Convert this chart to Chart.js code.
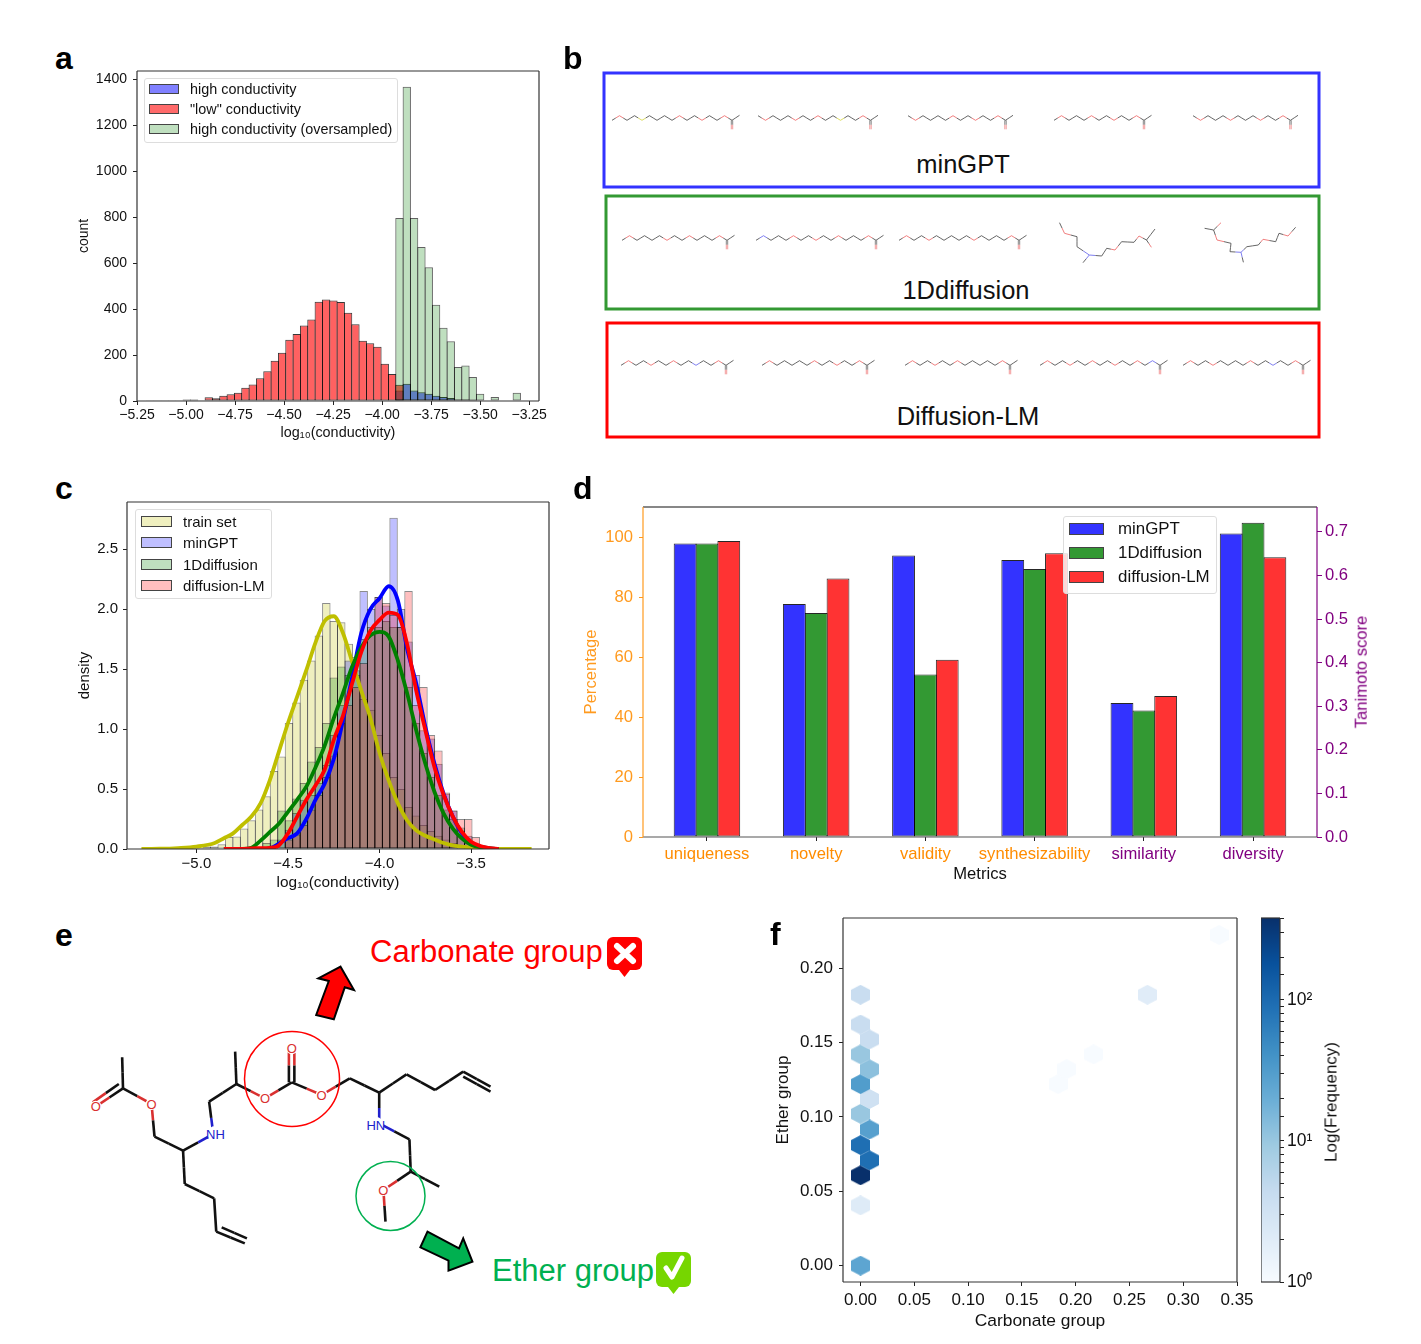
<!DOCTYPE html>
<html>
<head>
<meta charset="utf-8">
<script src="https://cdn.jsdelivr.net/npm/chart.js@4/dist/chart.umd.min.js"></script>
<style>
  html, body { margin: 0; padding: 0; background: #fff; }
  #page { position: relative; width: 1421px; height: 1344px; overflow: hidden; font-family: "Liberation Sans", Arial, sans-serif; color: #111; }
  canvas { position: absolute; }
  svg { position: absolute; left: 0; top: 0; }
  .txt { position: absolute; white-space: nowrap; line-height: 1; }
  .lab { font-weight: bold; font-size: 32px; }
  .legend { position: absolute; border: 1px solid #ddd; border-radius: 3px; box-sizing: border-box; background: rgba(255,255,255,.8); }
  .sw { position: absolute; box-sizing: border-box; border: 1px solid #444; }
</style>
</head>
<body>
<div id="page">
  <svg id="art" width="1421" height="1344"></svg>
  <canvas id="chartA"></canvas>
  <canvas id="chartC"></canvas>
  <canvas id="chartD"></canvas>
  <canvas id="chartF"></canvas>
  <canvas id="chartBar"></canvas>
</div>
<script>
// panel a, counts per bin. first* is the bin index of the first value, bin 0 is the tallest green bar
const aBinStart = -3.893, aBinWidth = 0.0374;
const aCountTicks = [0, 200, 400, 600, 800, 1000, 1200, 1400];
const aLowFirst = -35;
const aLow = [1, 1, 1, 3, 1, 7, 7, 3, 16, 12, 23, 29, 36, 58, 72, 99, 130, 175, 210, 267, 292, 328, 355, 432, 442, 437, 431, 384, 334, 262, 251, 236, 162, 117, 71];
const aHighFirst = -1;
const aHigh = [46, 75, 46, 38, 32, 23, 17, 13, 7, 7, 4, 1];
const aOverFirst = -1;
const aOver = [796, 1368, 796, 670, 582, 419, 319, 260, 148, 155, 104, 32, null, 17, null, null, 36];

// panel c, density per bin
const cBinStart = -3.944, cBinWidth = 0.0408;
const trainFirst = -30;
const trainHist = [.005, .005, .008, .01, .01, .02, .02, .04, .10, .105, .17, .24, .33, .44, .65, .77, 1.05, 1.22, 1.41, 1.57, 1.78, 2.05, 1.90, 1.89, 1.71, 1.45, 1.25, 1.16, .95, .8, .6, .5, .35, .28, .2, .15, .11, .08, .05, .03, .02, .01];
const gptFirst = -16;
const gptHist = [.03, .08, .16, .3, .41, .45, .55, .7, .95, 1.2, 1.57, 1.49, 2.15, 2.0, 2.1, 2.03, 2.76, 2.0, 1.73, 1.45, .99, .92, .71, .46, .32, .155, .11, .02];
const oneDFirst = -17;
const oneDHist = [.05, .08, .32, .24, .42, .55, .73, .85, 1.05, 1.43, 1.52, 1.45, 1.6, 1.75, 1.85, 1.85, 1.9, 1.85, 1.85, 1.35, 1.05, .8, .6, .45, .33, .25, .18, .05, .02];
const lmFirst = -14;
const lmHist = [.08, .12, .2, .33, .45, .6, .78, 1.05, 1.2, 1.35, 1.55, 1.8, 2.1, 2.05, 1.95, 1.85, 2.15, 1.2, 1.35, .95, .82, .47, .32, .25, .25, .1, .03];

// kde curves of panel c
const trainKdeX = [-5.3, -5.2, -5.1, -5.0, -4.9, -4.85, -4.8, -4.75, -4.7, -4.65, -4.6, -4.55, -4.5, -4.45, -4.4, -4.35, -4.3, -4.25, -4.2, -4.15, -4.1, -4.05, -4.0, -3.95, -3.9, -3.85, -3.8, -3.75, -3.7, -3.65, -3.6, -3.55, -3.5, -3.45, -3.4, -3.3, -3.17];
const trainKde = [0, .002, .008, .02, .05, .09, .13, .2, .27, .38, .57, .81, 1.05, 1.27, 1.49, 1.72, 1.9, 1.94, 1.8, 1.56, 1.32, 1.09, .8, .57, .38, .24, .155, .11, .08, .05, .03, .02, .012, .006, .003, 0, 0];
const kdeX = [-4.85, -4.8, -4.75, -4.7, -4.65, -4.6, -4.55, -4.5, -4.45, -4.4, -4.35, -4.3, -4.25, -4.2, -4.15, -4.1, -4.05, -4.0, -3.95, -3.9, -3.85, -3.8, -3.75, -3.7, -3.65, -3.6, -3.55, -3.5, -3.45, -3.4, -3.35];
const gptKde = [0, 0, 0, 0, 0, .005, .045, .09, .13, .25, .41, .545, .75, 1.07, 1.43, 1.8, 2.0, 2.09, 2.19, 2.07, 1.67, 1.38, 1.02, .71, .46, .27, .13, .045, .02, .005, 0];
const oneDKde = [0, 0, 0, .01, .07, .14, .21, .31, .41, .52, .68, .86, 1.09, 1.3, 1.52, 1.68, 1.78, 1.81, 1.77, 1.57, 1.3, .99, .71, .475, .295, .17, .086, .035, .015, .005, 0];
const lmKde = [0, 0, 0, .005, .007, .01, .03, .13, .27, .41, .53, .66, .91, 1.11, 1.38, 1.64, 1.82, 1.91, 1.97, 1.95, 1.71, 1.32, .99, .68, .45, .27, .14, .06, .025, .008, 0];

// panel d
const metrics = ['uniqueness', 'novelty', 'validity', 'synthesizability', 'similarity', 'diversity'];
const gptPct = [97.8, 77.7, 93.8, 92.3];
const oneDPct = [97.8, 74.7, 54.2, 89.3];
const lmPct = [98.7, 86.2, 59.1, 94.6];
const gptTani = [.3076, .696];
const oneDTani = [.29, .7207];
const lmTani = [.3236, .642];

// panel f, hexbin cells
const hexCarbonate = [0, 0, 0, .0083, 0, .0083, 0, .0083, 0, .0083, 0, .0083, 0, 0, .1836, .1917, .2167, .2667, .3333];
const hexEther = [0, .0405, .0607, .0708, .081, .0915, .102, .112, .122, .132, .142, .152, .162, .182, .122, .132, .142, .182, .2222];
const hexCounts = [25, 2.1, 380, 90, 90, 28, 10, 3.3, 31, 12, 10, 4, 4, 4, 1, 1, 1, 2, 1];
const barMax = 380;

const ORANGE = '#ff9a1f', PURPLE = '#800080', INK = '#111';
const BLUES = ['#f7fbff', '#deebf7', '#c6dbef', '#9ecae1', '#6baed6', '#4292c6', '#2171b5', '#08519c', '#08306b'];
const FONT = '"Liberation Sans", Arial, sans-serif';
const PAD_TOP = 18, PAD_RIGHT = 26;

const page = document.getElementById('page');
Chart.defaults.font.family = FONT;
Chart.defaults.color = INK;
Chart.defaults.animation = false;
Chart.defaults.responsive = false;
Chart.defaults.plugins.legend.display = false;
Chart.defaults.plugins.tooltip.enabled = false;

// puts the canvas so the plot area lands on L,T,R,B, side scales get a fixed size
function place(id, L, T, R, B, W, H, W2) {
  const c = document.getElementById(id);
  c.style.left = (L - W) + 'px';
  c.style.top = (T - PAD_TOP) + 'px';
  c.width = W + (R - L) + (W2 || 0) + PAD_RIGHT;
  c.height = PAD_TOP + (B - T) + H;
  return c;
}

function hist(first, vals, start, width) {
  return vals.map((v, i) => ({ x: start + (first + i + 0.5) * width, y: v }));
}
function curve(xs, ys) { return xs.map((x, i) => ({ x: x, y: ys[i] })); }
function minus(d) { return v => v.toFixed(d).replace('-', '\u2212'); }

// spines of the axes box
function frame(colors) {
  return {
    id: 'frame',
    afterDatasetsDraw(chart) {
      const a = chart.chartArea, g = chart.ctx;
      const c = Object.assign({ left: '#333', right: '#333', top: '#333', bottom: '#333' }, colors);
      g.save();
      g.lineWidth = 1.2;
      [['top', a.left, a.top, a.right, a.top], ['right', a.right, a.top, a.right, a.bottom],
       ['bottom', a.left, a.bottom, a.right, a.bottom], ['left', a.left, a.top, a.left, a.bottom]].forEach(s => {
        g.strokeStyle = c[s[0]];
        g.beginPath(); g.moveTo(s[1], s[2]); g.lineTo(s[3], s[4]); g.stroke();
      });
      g.restore();
    }
  };
}

function xAxis(min, max, step, size, title, H, fmt, pad) {
  return {
    type: 'linear', min: min, max: max, offset: false,
    afterFit: s => { s.height = H; },
    grid: { offset: false, drawOnChartArea: false, tickLength: 4, tickColor: '#222' },
    border: { display: false },
    ticks: { stepSize: step, includeBounds: false, autoSkip: false, maxRotation: 0, font: { size: size }, padding: pad, callback: minus(fmt) },
    title: { display: true, text: title, font: { size: size + .4 }, padding: 0 }
  };
}
function yAxis(min, max, step, size, title, W, fmt, pad, color) {
  return {
    type: 'linear', min: min, max: max,
    afterFit: s => { s.width = W; },
    grid: { drawOnChartArea: false, tickLength: 4, tickColor: color || '#222' },
    border: { display: false },
    ticks: { stepSize: step, includeBounds: false, font: { size: size }, padding: pad, color: color || INK, callback: minus(fmt) },
    title: { display: true, text: title, font: { size: size }, padding: 0, color: color || INK }
  };
}

// chart.js draws the border inside the bar, barPercentage a bit over 1 lets neighbours share one edge
function barSet(label, data, fill, edge, order, pct) {
  return { type: 'bar', label: label, data: data, backgroundColor: fill, borderColor: edge, borderWidth: 1, borderSkipped: false,
    grouped: false, barPercentage: pct, categoryPercentage: 1, order: order };
}
function lineSet(label, data, color) {
  return { type: 'line', label: label, data: data, borderColor: color, borderWidth: 3.8, pointRadius: 0,
    cubicInterpolationMode: 'monotone', order: 0, fill: false };
}

// ---- a
const aY = yAxis(0, 1436, 200, 14, 'count', 61, 0, 6);
aY.afterBuildTicks = s => { s.ticks = aCountTicks.map(v => ({ value: v })); };
new Chart(place('chartA', 137, 71, 539, 401, 61, 41), {
  type: 'bar',
  data: { datasets: [
    barSet('high conductivity', hist(aHighFirst, aHigh, aBinStart, aBinWidth), 'rgba(0,0,255,.5)', 'rgba(0,0,0,.78)', 3, 1.136),
    barSet('"low" conductivity', hist(aLowFirst, aLow, aBinStart, aBinWidth), 'rgba(255,0,0,.62)', 'rgba(0,0,0,.78)', 2, 1.136),
    barSet('high conductivity (oversampled)', hist(aOverFirst, aOver, aBinStart, aBinWidth), 'rgba(0,128,0,.25)', 'rgba(0,0,0,.62)', 1, 1.136)
  ] },
  options: {
    layout: { padding: { top: PAD_TOP, right: PAD_RIGHT } },
    scales: {
      x: xAxis(-5.25, -3.2, .25, 14, 'log\u2081\u2080(conductivity)', 41, 2, 2),
      y: aY
    }
  },
  plugins: [frame({})]
});

// ---- c
new Chart(place('chartC', 127, 502, 549, 849, 51, 43), {
  type: 'bar',
  data: { datasets: [
    lineSet('diffusion-LM', curve(kdeX, lmKde), '#ff0000'),
    lineSet('1Ddiffusion', curve(kdeX, oneDKde), '#008000'),
    lineSet('minGPT', curve(kdeX, gptKde), '#0000ff'),
    lineSet('train set', curve(trainKdeX, trainKde), '#bfbf00'),
    barSet('diffusion-LM', hist(lmFirst, lmHist, cBinStart, cBinWidth), 'rgba(255,0,0,.25)', 'rgba(0,0,0,.45)', 1, 1.134),
    barSet('1Ddiffusion', hist(oneDFirst, oneDHist, cBinStart, cBinWidth), 'rgba(0,128,0,.25)', 'rgba(0,0,0,.45)', 2, 1.134),
    barSet('minGPT', hist(gptFirst, gptHist, cBinStart, cBinWidth), 'rgba(0,0,255,.25)', 'rgba(0,0,0,.45)', 3, 1.134),
    barSet('train set', hist(trainFirst, trainHist, cBinStart, cBinWidth), 'rgba(191,191,0,.25)', 'rgba(0,0,0,.45)', 4, 1.134)
  ] },
  options: {
    layout: { padding: { top: PAD_TOP, right: PAD_RIGHT } },
    scales: {
      x: xAxis(-5.379, -3.075, .5, 15, 'log\u2081\u2080(conductivity)', 43, 1, 2),
      y: yAxis(0, 2.892, .5, 15, 'density', 51, 1, 5)
    }
  },
  plugins: [frame({})]
});

// ---- d
function pctPoints(vals) { return vals.map((v, i) => ({ x: i, y: v })); }
function taniPoints(vals) { return vals.map((v, i) => ({ x: i + 4, y: v })); }
function metricBar(label, data, fill, stack, axis) {
  return { label: label, data: data, backgroundColor: fill, borderColor: 'rgba(0,0,0,.85)', borderWidth: 1, borderSkipped: false,
    stack: stack, yAxisID: axis, barPercentage: 1.045, categoryPercentage: 0.6 };
}
new Chart(place('chartD', 643, 507, 1317, 837, 62, 47, 62), {
  type: 'bar',
  data: { datasets: [
    metricBar('minGPT', pctPoints(gptPct), '#3333ff', 'a', 'y'),
    metricBar('1Ddiffusion', pctPoints(oneDPct), '#339933', 'b', 'y'),
    metricBar('diffusion-LM', pctPoints(lmPct), '#ff3333', 'c', 'y'),
    metricBar('minGPT', taniPoints(gptTani), '#3333ff', 'a', 'y2'),
    metricBar('1Ddiffusion', taniPoints(oneDTani), '#339933', 'b', 'y2'),
    metricBar('diffusion-LM', taniPoints(lmTani), '#ff3333', 'c', 'y2')
  ] },
  options: {
    layout: { padding: { top: PAD_TOP, right: PAD_RIGHT } },
    scales: {
      x: {
        type: 'linear', min: -0.5856, max: 5.5856, offset: false,
        afterFit: s => { s.height = 47; },
        grid: { offset: false, drawOnChartArea: false, tickLength: 4, tickColor: '#222' },
        border: { display: false },
        ticks: {
          stepSize: 1, includeBounds: false, autoSkip: false, maxRotation: 0, font: { size: 16.6 }, padding: 3,
          callback: v => metrics[v],
          color: c => (c.tick && c.tick.value > 3 ? PURPLE : '#ff8c00')
        },
        title: { display: true, text: 'Metrics', font: { size: 16.6 }, padding: 0 }
      },
      y: yAxis(0, 110, 20, 16.6, 'Percentage', 62, 0, 6, ORANGE),
      y2: {
        type: 'linear', position: 'right', min: 0, max: .757,
        afterFit: s => { s.width = 62; },
        grid: { drawOnChartArea: false, tickLength: 5, tickColor: PURPLE },
        border: { display: false },
        ticks: { stepSize: .1, includeBounds: false, font: { size: 16.6 }, color: PURPLE, padding: 3, callback: minus(1) }
      }
    }
  },
  plugins: [frame({ left: ORANGE, right: PURPLE, top: '#111', bottom: '#555' })]
});

// ---- f
function blueFor(t) {
  const p = Math.max(0, Math.min(1, t)) * (BLUES.length - 1), i = Math.min(Math.floor(p), BLUES.length - 2), f = p - i;
  const rgb = h => [1, 3, 5].map(k => parseInt(h.substr(k, 2), 16));
  const a = rgb(BLUES[i]), b = rgb(BLUES[i + 1]);
  return 'rgb(' + a.map((v, k) => Math.round(v + (b[k] - v) * f)).join(',') + ')';
}
function hexSprite(color) {
  const c = document.createElement('canvas'), w = 19, h = 20;
  c.width = w; c.height = h;
  const g = c.getContext('2d');
  g.fillStyle = color;
  g.beginPath();
  g.moveTo(w / 2, 0); g.lineTo(w, h / 4); g.lineTo(w, 3 * h / 4); g.lineTo(w / 2, h); g.lineTo(0, 3 * h / 4); g.lineTo(0, h / 4);
  g.closePath(); g.fill();
  return c;
}
const hexSprites = hexCounts.map(n => hexSprite(blueFor(Math.log(n) / Math.log(barMax))));
new Chart(place('chartF', 843, 918, 1237, 1282, 70, 50), {
  type: 'scatter',
  data: { datasets: [{
    label: 'frequency',
    data: hexCarbonate.map((x, i) => ({ x: x, y: hexEther[i] })),
    pointStyle: c => hexSprites[c.dataIndex],
    pointRadius: 10
  }] },
  options: {
    layout: { padding: { top: PAD_TOP, right: PAD_RIGHT } },
    scales: {
      x: xAxis(-.0163, .35, .05, 17, 'Carbonate group', 50, 2, 4),
      y: yAxis(-.011, .2336, .05, 17, 'Ether group', 70, 2, 6)
    }
  },
  plugins: [frame({})]
});

// colour bar, a single floating bar on a log axis
new Chart(place('chartBar', 1261, 918, 1280, 1282, 0, 16, 50), {
  type: 'bar',
  data: { labels: ['Log(Frequency)'], datasets: [{
    data: [[1, barMax]],
    barPercentage: 1, categoryPercentage: 1, borderWidth: 0,
    backgroundColor: c => {
      const a = c.chart.chartArea;
      if (!a) return BLUES[4];
      const g = c.chart.ctx.createLinearGradient(0, a.bottom, 0, a.top);
      BLUES.forEach((b, i) => g.addColorStop(i / (BLUES.length - 1), b));
      return g;
    }
  }] },
  options: {
    layout: { padding: { top: PAD_TOP, right: PAD_RIGHT, bottom: 16 } },
    scales: {
      x: { display: false },
      y: {
        type: 'logarithmic', position: 'right', min: 1, max: barMax,
        afterFit: s => { s.width = 50; },
        grid: { drawOnChartArea: false, tickLength: 4, tickColor: '#222' },
        border: { display: false },
        ticks: {
          autoSkip: false, font: { size: 17.5 }, padding: 3,
          callback: v => ({ 1: '10\u2070', 10: '10\u00b9', 100: '10\u00b2' }[v] || '')
        }
      }
    }
  },
  plugins: [frame({})]
});

// ---- loose text and legends
function text(str, x, y, size, color, opt) {
  const d = document.createElement('div');
  d.className = 'txt' + (opt && opt.cls ? ' ' + opt.cls : '');
  d.textContent = str;
  d.style.fontSize = size + 'px';
  d.style.color = color || INK;
  d.style.left = x + 'px';
  d.style.top = y + 'px';
  d.style.transform = (opt && opt.tf) || 'translate(-50%,-50%)';
  page.appendChild(d);
  return d;
}
[['a', 55, 67], ['b', 563, 67], ['c', 55, 497], ['d', 573, 497], ['e', 55, 944], ['f', 770, 943]].forEach(l => {
  text(l[0], l[1], l[2], 32, '#000', { cls: 'lab', tf: 'translateY(-78%)' });
});
text('Tanimoto score', 1362, 672, 16.6, PURPLE, { tf: 'translate(-50%,-50%) rotate(-90deg)' });
text('Log(Frequency)', 1331, 1102, 17, INK, { tf: 'translate(-50%,-50%) rotate(-90deg)' });
text('minGPT', 963, 165, 25.5);
text('1Ddiffusion', 966, 291, 25.5);
text('Diffusion-LM', 968, 417, 25.5);
text('Carbonate group', 370, 951, 31, '#ff0000', { tf: 'translateY(-50%)' });
text('Ether group', 492, 1270, 31, '#00b050', { tf: 'translateY(-50%)' });

function legend(x, y, w, h, items, swX, swW, swH, txtX, size) {
  const box = document.createElement('div');
  box.className = 'legend';
  box.style.cssText = `left:${x}px;top:${y}px;width:${w}px;height:${h}px`;
  page.appendChild(box);
  items.forEach(it => {
    const s = document.createElement('div');
    s.className = 'sw';
    s.style.cssText = `left:${swX}px;top:${it[2] - swH / 2}px;width:${swW}px;height:${swH}px;background:${it[1]}`;
    page.appendChild(s);
    text(it[0], txtX, it[2], size, INK, { tf: 'translateY(-50%)' });
  });
}
legend(144, 78, 254, 65, [['high conductivity', '#8080ff', 89], ['"low" conductivity', '#ff6a6a', 109], ['high conductivity (oversampled)', '#bfdfbf', 129]], 149, 30, 10, 190, 14.4);
legend(135, 509, 137, 90, [['train set', '#efefbf', 521], ['minGPT', '#bfbfff', 542], ['1Ddiffusion', '#bfdfbf', 564], ['diffusion-LM', '#ffbfbf', 585]], 141, 31, 11, 183, 15);
legend(1063, 516, 154, 78, [['minGPT', '#3333ff', 529], ['1Ddiffusion', '#339933', 553], ['diffusion-LM', '#ff3333', 577]], 1069, 35, 12, 1118, 16.9);

// ---- molecule sketches of panels b and e
const art = document.getElementById('art');
const NS = 'http://www.w3.org/2000/svg';
function el(name, attrs) {
  const n = document.createElementNS(NS, name);
  Object.keys(attrs).forEach(k => n.setAttribute(k, attrs[k]));
  art.appendChild(n);
  return n;
}
const SMALL = { C: '#555', O: '#ee7070', N: '#7070ee', S: '#d8d850' };
function bond(a, b, w, pal) {
  const mx = (a[0] + b[0]) / 2, my = (a[1] + b[1]) / 2;
  el('line', { x1: a[0], y1: a[1], x2: mx, y2: my, stroke: pal[a[2] || 'C'], 'stroke-width': w });
  el('line', { x1: mx, y1: my, x2: b[0], y2: b[1], stroke: pal[b[2] || 'C'], 'stroke-width': w });
}
function chain(x0, y0, atoms) {
  const n = atoms.length, pts = [];
  for (let i = 0; i < n; i++) pts.push([x0 + i * 7.5, y0 + ((n - 1 - i) % 2 ? -2.3 : 2.3), atoms[i]]);
  for (let i = 1; i < n; i++) bond(pts[i - 1], pts[i], .9, SMALL);
  const c = pts[n - 1];
  bond(c, [c[0] + 7.5, c[1] - 5], .9, SMALL);
  bond([c[0] - .7, c[1]], [c[0] - .7, c[1] + 9, 'O'], .7, SMALL);
  bond([c[0] + .7, c[1]], [c[0] + .7, c[1] + 9, 'O'], .7, SMALL);
}
function path(points) {
  for (let i = 1; i < points.length; i++) bond(points[i - 1], points[i], .9, SMALL);
}
[[604, 73, 715, 114, '#3333ff'], [606, 196, 713, 113, '#339933'], [607, 323, 712, 114, '#ff0000']].forEach(b => {
  el('rect', { x: b[0], y: b[1], width: b[2], height: b[3], fill: 'none', stroke: b[4], 'stroke-width': 3 });
});
chain(612, 118, 'COCCSCCCCOCCOCCOC');
chain(758, 118, 'COCCCOCCOCCSCCOC');
chain(908, 118, 'COCCCCOCCOCCOC');
chain(1054, 118, 'COCCCOCCOCCOC');
chain(1193, 118, 'COCCCOCCCOCCOC');
chain(622, 238, 'COCCCCOCCOCCCOC');
chain(756, 238, 'CNCCCOCCOCCOCCCOC');
chain(899, 238, 'COCCOCCCCCOCCCCOC');
path([[1059.5, 222.7], [1064.5, 233.3, 'O'], [1077, 236.7], [1077, 246.7], [1089.3, 255, 'N'], [1101.7, 256], [1106.7, 248.3], [1115, 250, 'O'], [1121.6, 241.7], [1134, 242.3], [1139, 236, 'O'], [1146.5, 240], [1155, 229]]);
path([[1089.3, 255, 'N'], [1083, 262.7]]);
path([[1146.5, 240], [1151.4, 247.3, 'O']]);
path([[1221, 222.7, 'O'], [1213.6, 230], [1217, 240, 'O'], [1231, 243.3], [1230, 251.7], [1241, 252.3, 'N'], [1246.9, 246.7], [1258.3, 245], [1263, 239.3, 'O'], [1275.7, 241.7], [1279, 233.3], [1288, 236, 'O'], [1295.6, 227.3]]);
path([[1213.6, 230], [1204.6, 228.3]]);
path([[1241, 252.3, 'N'], [1243.4, 262.3]]);
chain(621, 363, 'COCCOCCOCCNCCOC');
chain(762, 363, 'COCCCCCOCCOCCOC');
chain(905, 363, 'COCCOCCOCCCCCOC');
chain(1040, 363, 'COCCOCCOCCOCCOCNC');
chain(1183, 363, 'COCCOCCCCOCCNCCOC');

// panel e, points read in the zoomed crop
const ex = x => 60 + x * .42, ey = y => 910 + y / 3;
const P = (x, y, a) => [ex(x), ey(y), a];
const BIG = { C: '#111', O: '#d93030', N: '#2020cc' };
function ebonds(points) { for (let i = 1; i < points.length; i++) bond(points[i - 1], points[i], 2.6, BIG); }
ebonds([P(148, 442), P(150, 535), P(218, 582, 'O'), P(225, 680), P(293, 722), P(365, 672, 'N'), P(355, 575), P(420, 522), P(488, 565, 'O'), P(552, 517), P(623, 555, 'O'), P(690, 505), P(760, 548), P(825, 493), P(893, 540), P(960, 485), P(1025, 530)]);
ebonds([P(150, 535), P(85, 590, 'O')]);
ebonds([P(140, 522), P(78, 577, 'O')]);
ebonds([P(420, 522), P(417, 425)]);
ebonds([P(545, 517), P(545, 415, 'O')]);
ebonds([P(558, 517), P(558, 415, 'O')]);
ebonds([P(293, 722), P(297, 822), P(367, 865), P(372, 965), P(440, 1000)]);
ebonds([P(385, 952), P(445, 985)]);
ebonds([P(960, 500), P(1025, 545)]);
ebonds([P(760, 548), P(760, 640, 'N'), P(832, 688), P(835, 785), P(903, 830)]);
ebonds([P(835, 785), P(770, 840, 'O'), P(775, 935)]);
[['O', 218, 582, '#d93030'], ['O', 85, 590, '#d93030'], ['O', 488, 565, '#d93030'], ['O', 552, 415, '#d93030'], ['O', 623, 555, '#d93030'], ['O', 770, 840, '#d93030'], ['NH', 370, 672, '#2020cc'], ['HN', 752, 645, '#2020cc']].forEach(a => {
  el('circle', { cx: ex(a[1]), cy: ey(a[2]), r: a[0].length > 1 ? 8 : 6, fill: '#fff' });
  const t = el('text', { x: ex(a[1]), y: ey(a[2]) + 4.5, fill: a[3], 'font-size': 13, 'text-anchor': 'middle', 'font-family': FONT });
  t.textContent = a[0];
});
el('circle', { cx: 292, cy: 1079, r: 47.5, fill: 'none', stroke: '#ff0000', 'stroke-width': 1.5 });
el('circle', { cx: 390.5, cy: 1196, r: 34.5, fill: 'none', stroke: '#00b050', 'stroke-width': 1.5 });
function arrow(points, fill) {
  el('polygon', { points: points.map(p => ex(p[0]) + ',' + ey(p[1])).join(' '), fill: fill, stroke: '#000', 'stroke-width': 2 });
}
arrow([[668, 170], [700, 240], [678, 232], [652, 328], [610, 315], [640, 213], [615, 205]], '#ff0000');
arrow([[875, 965], [950, 1015], [960, 985], [982, 1055], [925, 1082], [925, 1052], [858, 1012]], '#00b050');
// badges next to the two group names
el('rect', { x: 607, y: 937, width: 35, height: 33, rx: 6, fill: '#ff0000' });
el('polygon', { points: '619,970 630,970 624.5,977', fill: '#ff0000' });
el('path', { d: 'M617 946 L633 961 M633 946 L617 961', stroke: '#fff', 'stroke-width': 6, 'stroke-linecap': 'round' });
el('rect', { x: 656, y: 1252, width: 35, height: 35, rx: 6, fill: '#76d600' });
el('polygon', { points: '668,1287 679,1287 673.5,1294', fill: '#76d600' });
el('path', { d: 'M666 1268 L672 1277 L682 1258', stroke: '#fff', 'stroke-width': 5, fill: 'none', 'stroke-linecap': 'round', 'stroke-linejoin': 'round' });
</script>
</body>
</html>
